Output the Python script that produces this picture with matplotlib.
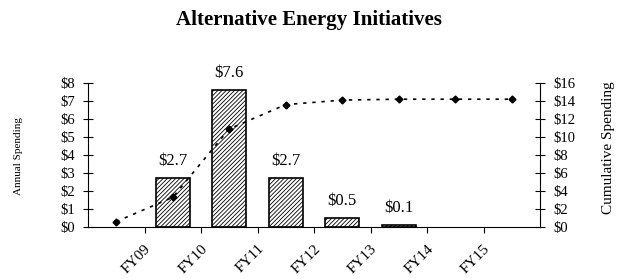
import numpy as np
import matplotlib.pyplot as plt

plt.rcParams['font.family'] = 'Liberation Serif'
plt.rcParams['hatch.linewidth'] = 0.6

# Data
years = ['FY09', 'FY10', 'FY11', 'FY12', 'FY13', 'FY14', 'FY15']
annual = np.array([0, 2.7, 7.6, 2.7, 0.5, 0.1, 0, 0])
cumulative = [0.6, 3.3, 10.9, 13.6, 14.1, 14.2, 14.2, 14.2]
bar_labels = ['', '$2.7', '$7.6', '$2.7', '$0.5', '$0.1', '', '']

x = np.arange(len(annual))
shown = annual > 0

fig = plt.figure(figsize=(6.18, 2.79), dpi=100)
ax = fig.add_axes([0.1424, 0.1864, 0.7314, 0.5161])

ax.bar(x[shown], annual[shown], width=0.6, color='white', edgecolor='black',
       linewidth=1.2, hatch='////////', zorder=2)
for xi, v, lab in zip(x, annual, bar_labels):
    if lab:
        ax.text(xi, v + 0.5, lab, ha='center', va='bottom', fontsize=12)

ax.set_xlim(-0.5, len(annual) - 0.5)
ax.set_ylim(0, 8)
ax.set_yticks(np.arange(0, 9, 1))
ax.set_yticklabels(['$%d' % v for v in range(0, 9)], fontsize=10.5)
ax.set_xticks(np.arange(len(years)) + 0.5)
ax.set_xticklabels(years, rotation=45, ha='right', va='top',
                   rotation_mode='anchor', fontsize=11)
ax.tick_params(axis='x', direction='out', length=4, width=0.8, pad=7)
ax.tick_params(axis='y', direction='inout', length=7, width=0.8, pad=6)
ax.spines['top'].set_visible(False)
ax.spines['right'].set_visible(False)
for s in ['left', 'bottom']:
    ax.spines[s].set_linewidth(0.8)

ax2 = ax.twinx()
ax2.plot(x, cumulative, color='black', linestyle=(0, (2, 3.5)), linewidth=1.2,
         marker='D', markersize=3.5, zorder=3)
ax2.set_ylim(0, 16)
ax2.set_yticks(np.arange(0, 17, 2))
ax2.set_yticklabels(['$%d' % v for v in range(0, 17, 2)], fontsize=10.5)
ax2.tick_params(axis='y', direction='inout', length=7, width=0.8, pad=6)
ax2.spines['top'].set_visible(False)
ax2.spines['left'].set_visible(False)
ax2.spines['bottom'].set_visible(False)
ax2.spines['right'].set_linewidth(0.8)

fig.text(0.5, 0.928, 'Alternative Energy Initiatives', ha='center', va='center',
         fontsize=15, fontweight='bold')
fig.text(0.03, 0.44, 'Annual Spending', rotation=90, ha='center', va='center',
         fontsize=8)
fig.text(0.984, 0.47, 'Cumulative Spending', rotation=90, ha='center',
         va='center', fontsize=11)

fig.savefig('out.png', dpi=100)
